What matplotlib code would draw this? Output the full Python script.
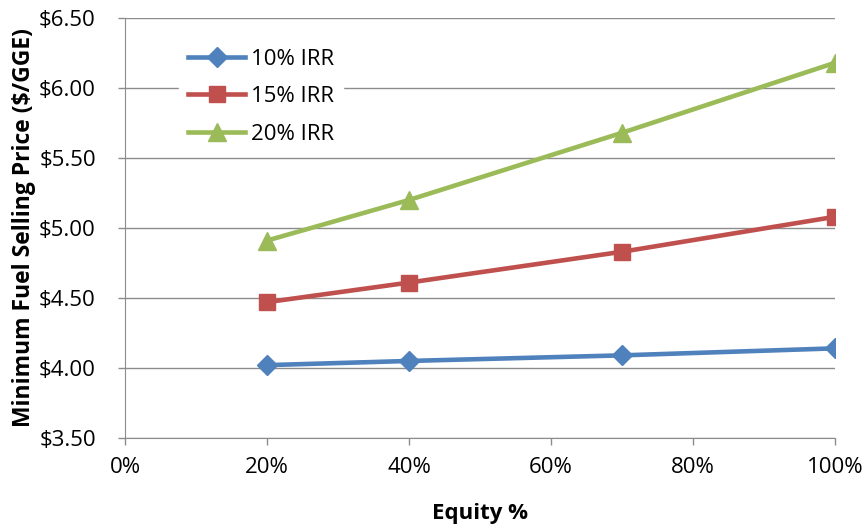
import matplotlib
matplotlib.use('Agg')
import matplotlib.pyplot as plt
from matplotlib.ticker import FuncFormatter, MultipleLocator

# Données
equity = [0.20, 0.40, 0.70, 1.00]
irr_10 = [4.02, 4.05, 4.09, 4.14]
irr_15 = [4.47, 4.61, 4.83, 5.08]
irr_20 = [4.91, 5.20, 5.68, 6.18]
series_labels = ['10% IRR', '15% IRR', '20% IRR']

plt.rcParams['font.family'] = ['Open Sans', 'DejaVu Sans']

fig = plt.figure(figsize=(8.64, 5.27), dpi=100)
ax = fig.add_axes([0.1447, 0.169, 0.8217, 0.7968])

ax.plot(equity, irr_10, color='#4F81BD', lw=3.3, marker='D', ms=10, label=series_labels[0])
ax.plot(equity, irr_15, color='#C0504D', lw=3.3, marker='s', ms=12, label=series_labels[1])
ax.plot(equity, irr_20, color='#9BBB59', lw=3.3, marker='^', ms=13, label=series_labels[2])

ax.set_xlim(0, 1)
ax.set_ylim(3.5, 6.5)
ax.xaxis.set_major_locator(MultipleLocator(0.2))
ax.yaxis.set_major_locator(MultipleLocator(0.5))
ax.xaxis.set_major_formatter(FuncFormatter(lambda v, p: f'{v*100:.0f}%'))
ax.yaxis.set_major_formatter(FuncFormatter(lambda v, p: f'${v:.2f}'))

ax.grid(axis='y', color='#8C8C8C', lw=1)
ax.set_axisbelow(True)
for s in ['top', 'right']:
    ax.spines[s].set_visible(False)
for s in ['left', 'bottom']:
    ax.spines[s].set_color('#8C8C8C')
ax.tick_params(colors='#8C8C8C', labelcolor='black', labelsize=16, length=5, width=1)
ax.tick_params(axis='x', pad=9)
ax.tick_params(axis='y', pad=16)

ax.set_xlabel('Equity %', fontsize=16, fontweight='bold', labelpad=18)
ax.set_ylabel('Minimum Fuel Selling Price ($/GGE)', fontsize=16.5, fontweight='bold', labelpad=2)

leg = ax.legend(loc='upper left', bbox_to_anchor=(0.06, 0.975), frameon=True, fontsize=16,
                handlelength=2.6, handletextpad=0.25, labelspacing=0.75, borderpad=0.4)
leg.get_frame().set_edgecolor('white')
leg.get_frame().set_facecolor('white')
leg.get_frame().set_alpha(1)

fig.savefig('out.png', dpi=100)
